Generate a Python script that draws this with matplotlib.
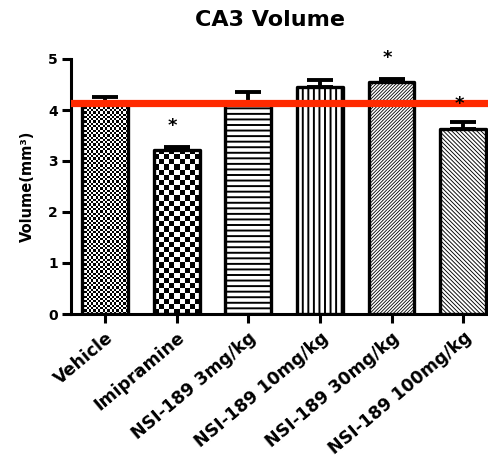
import numpy as np
import matplotlib
matplotlib.use('Agg')
import matplotlib.pyplot as plt

# data
groups = ['Vehicle', 'Imipramine', 'NSI-189 3mg/kg', 'NSI-189 10mg/kg',
          'NSI-189 30mg/kg', 'NSI-189 100mg/kg']
means = [4.15, 3.22, 4.12, 4.46, 4.54, 3.62]
sems = [0.11, 0.05, 0.23, 0.12, 0.07, 0.14]
star_y = [None, 3.80, None, None, 5.12, 4.23]
ref_line = 4.14

# fill style per bar: ('checker', cell px) or hatch string
fills = [('checker', 2.3), ('checker', 5.2), '---', '|||', '/' * 10, '\\' * 8]
hatch_lw = [None, None, 1.4, 1.4, 0.6, 0.65]

plt.rcParams['font.family'] = ['DejaVu Sans']
plt.rcParams['font.weight'] = 'bold'
plt.rcParams['hatch.linewidth'] = 1.0

fig = plt.figure(figsize=(4.89, 4.57), dpi=100)
ax = fig.add_axes([71 / 489, 1 - 314 / 457, 1 - 71 / 489, 255 / 457])

x = np.arange(len(groups))
width = 0.64
ax.set_xlim(-0.475, 5.36)
ax.set_ylim(0, 5)

bars = []
for i, (xi, m, f) in enumerate(zip(x, means, fills)):
    if isinstance(f, tuple):
        b = ax.bar(xi, m, width, facecolor='none', edgecolor='black',
                   linewidth=2.4, zorder=3)[0]
    else:
        b = ax.bar(xi, m, width, facecolor='white', edgecolor='black',
                   linewidth=2.4, hatch=f, zorder=3)[0]
        if hasattr(b, 'set_hatch_linewidth'):
            b.set_hatch_linewidth(hatch_lw[i])
    b.set_joinstyle('round')
    bars.append(b)

# checkerboard fills, clipped to the bar shape
fig.canvas.draw()
for b, f in zip(bars, fills):
    if not isinstance(f, tuple):
        continue
    cell = f[1]
    x0, y0 = b.get_x(), 0
    x1, y1 = b.get_x() + b.get_width(), b.get_height()
    p0 = ax.transData.transform((x0, y0))
    p1 = ax.transData.transform((x1, y1))
    nc = max(1, int(round((p1[0] - p0[0]) / cell)))
    nr = max(1, int(round((p1[1] - p0[1]) / cell)))
    board = (np.add.outer(np.arange(nr), np.arange(nc)) % 2).astype(float)
    im = ax.imshow(board, cmap='gray', extent=[x0, x1, y0, y1], origin='lower',
                   aspect='auto', interpolation='nearest', zorder=2)
    im.set_clip_path(b)
ax.set_xlim(-0.475, 5.36)
ax.set_ylim(0, 5)

ax.errorbar(x, means, yerr=[np.zeros(len(sems)), sems], fmt='none',
            ecolor='black', elinewidth=2.8, capsize=9.5, capthick=2.8, zorder=2.5)

ax.axhline(ref_line, color='#ff2a00', linewidth=5.2, zorder=5)

for xi, sy in zip(x, star_y):
    if sy is None:
        continue
    ax.annotate('*', xy=(xi, sy), xytext=(-3, -7.5), textcoords='offset points',
                ha='center', va='baseline', fontsize=13, fontweight='bold',
                annotation_clip=False, zorder=6)

for side in ['top', 'right']:
    ax.spines[side].set_visible(False)
for side in ['left', 'bottom']:
    ax.spines[side].set_linewidth(2.2)

ax.set_yticks([0, 1, 2, 3, 4, 5])
ax.set_xticks(x)
ax.set_xticklabels(groups, rotation=40, ha='right', va='top',
                   rotation_mode='anchor', fontsize=12.5, fontweight='bold')
ax.tick_params(axis='both', direction='out', length=6.5, width=2.2)
ax.tick_params(axis='y', labelsize=10, pad=3)
ax.tick_params(axis='x', pad=4)

fig.text(270 / 489, 1 - 19.5 / 457, 'CA3 Volume', ha='center', va='center',
         fontsize=16, fontweight='bold')
fig.text(27 / 489, 1 - 186 / 457, 'Volume(mm³)', ha='center', va='center',
         rotation=90, fontsize=10.5, fontweight='bold')

fig.savefig('out.png', dpi=100)
plt.close(fig)
